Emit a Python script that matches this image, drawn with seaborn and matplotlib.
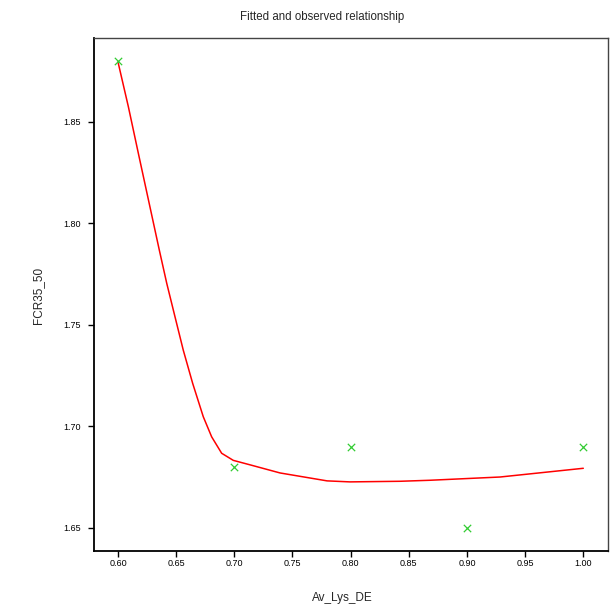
import matplotlib
matplotlib.use("Agg")
import matplotlib.pyplot as plt
import seaborn as sns
import pandas as pd

# Observed data
obs_x = [0.6, 0.7, 0.8, 0.9, 1.0]
obs_y = [1.88, 1.68, 1.69, 1.65, 1.69]

# Fitted curve
fit_x = [0.600, 0.6089, 0.6175, 0.6355, 0.6419, 0.6490, 0.6561, 0.6642, 0.6733,
         0.6805, 0.6891, 0.6991, 0.7135, 0.7393, 0.7797, 0.7994, 0.8424, 0.8682,
         0.9284, 1.000]
fit_y = [1.8794, 1.8574, 1.8344, 1.7868, 1.7704, 1.7539, 1.7375, 1.7211, 1.7047,
         1.6948, 1.6867, 1.6832, 1.6810, 1.6770, 1.6731, 1.6726, 1.6729, 1.6734,
         1.6750, 1.6793]

xticks = [0.60, 0.65, 0.70, 0.75, 0.80, 0.85, 0.90, 0.95, 1.00]
yticks = [1.65, 1.70, 1.75, 1.80, 1.85]

sns.set_style("ticks")
plt.rcParams['font.family'] = ['Liberation Sans', 'DejaVu Sans']

fig = plt.figure(figsize=(6.13, 6.10), dpi=100)
ax = fig.add_axes([0.1538, 0.0962, 0.9914 - 0.1538, 0.9382 - 0.0962])

df_fit = pd.DataFrame({"x": fit_x, "y": fit_y})
df_obs = pd.DataFrame({"x": obs_x, "y": obs_y})

sns.lineplot(data=df_fit, x="x", y="y", ax=ax, color="#ff0000", linewidth=1.1,
             sort=False, estimator=None)
sns.scatterplot(data=df_obs, x="x", y="y", ax=ax, marker="x", color="#33cc33",
                s=28, linewidth=0.9, zorder=3)

ax.set_xlim(0.5796, 1.021)
ax.set_ylim(1.6384, 1.8914)
ax.set_xticks(xticks)
ax.set_xticklabels([f"{v:.2f}" for v in xticks])
ax.set_yticks(yticks)
ax.set_yticklabels([f"{v:.2f}" for v in yticks])
ax.tick_params(axis="both", direction="out", length=4, width=1, labelsize=6.5,
               colors="black")
ax.tick_params(axis="x", pad=1.5)
ax.tick_params(axis="y", pad=5.5)
ax.set_xlabel("")
ax.set_ylabel("")

for s in ["left", "bottom"]:
    ax.spines[s].set_linewidth(1.3)
    ax.spines[s].set_color("black")
for s in ["top", "right"]:
    ax.spines[s].set_visible(True)
    ax.spines[s].set_linewidth(1.0)
    ax.spines[s].set_color("#444444")

fig.text(322 / 613, 1 - 17 / 610, "Fitted and observed relationship", ha="center",
         va="center", fontsize=8.3)
fig.text(342 / 613, 1 - 598 / 610, "Av_Lys_DE", ha="center", va="center", fontsize=8.5)
fig.text(38 / 613, 1 - 295 / 610, "FCR35_50", ha="center", va="center", fontsize=8.5,
         rotation=90)

fig.savefig("out.png", dpi=100)
